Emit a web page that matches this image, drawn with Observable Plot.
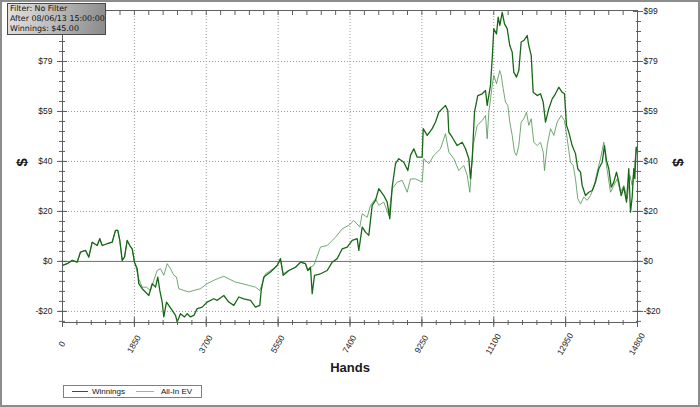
<!DOCTYPE html>
<html><head><meta charset="utf-8">
<script src="https://cdn.jsdelivr.net/npm/d3@7"></script>
<script src="https://cdn.jsdelivr.net/npm/@observablehq/plot@0.6"></script>
<style>
body{margin:0;background:#fff;}
#wrap{position:relative;width:700px;height:407px;overflow:hidden;background:#fff;}
#border{position:absolute;left:0;top:0;width:700px;height:407px;box-sizing:border-box;border:2px solid #8c8c8c;pointer-events:none;}
#filter{position:absolute;left:7px;top:3px;width:99px;height:32px;box-sizing:border-box;border:1px solid #4a4a4a;background:linear-gradient(100deg,#e2e2e2 0%,#bdbdbd 45%,#8a8a8a 100%);font:7.9px "DejaVu Sans",sans-serif;line-height:10px;padding:0 0 0 2px;color:#111;white-space:nowrap;overflow:hidden;}
#filter div{height:10px;}
#legend{position:absolute;left:63px;top:385px;width:139px;height:13px;box-sizing:border-box;border:1px solid #808080;font:8px "Liberation Sans",Arial,sans-serif;color:#111;}
#legend .ln{position:absolute;top:5px;height:0;border-top:1px solid;}
#legend .tx{position:absolute;top:1px;line-height:10px;}
</style></head>
<body>
<div id="wrap">
  <div id="chart"></div>
  <div id="filter"></div>
  <div id="legend"></div>
  <div id="border"></div>
</div>
<script>
// ---- data ----
const seriesNames = ["Winnings", "All-In EV"];
const winHands = [0,121,250,378,463,592,677,764,893,960,1021,1151,1279,1364,1423,1475,1537,1596,1665,1732,1794,1853,
 1923,1964,2051,2136,2221,2309,2394,2453,2504,2566,2607,2677,2736,2824,2909,2952,3037,3140,3210,3295,3380,3467,3596,3724,
 3894,3982,4152,4280,4409,4538,4666,4839,4968,5078,5114,5181,5354,5526,5611,5681,5825,5997,6126,6255,6314,6383,6427,6486,
 6641,6813,6942,7070,7199,7328,7457,7585,7627,7714,7799,7884,7971,8056,8141,8270,8357,8424,8486,8571,8656,8785,8888,8957,
 9042,9130,9258,9284,9387,9516,9601,9686,9858,9917,9943,10031,10159,10288,10373,10458,10502,10546,10604,10689,10803,10888,
 10931,11016,11060,11101,11171,11214,11256,11318,11377,11446,11513,11575,11616,11685,11745,11806,11873,11961,12002,12064,
 12115,12218,12303,12373,12432,12517,12604,12689,12774,12862,12921,12972,13032,13119,13204,13263,13333,13376,13461,13546,
 13634,13719,13804,13891,13950,14002,14061,14123,14190,14259,14319,14380,14447,14517,14576,14620,14663,14705,14731,14767,14800];
const winValues = [-1.6,-0.9,0.4,-0.3,3.7,4.4,1.7,7.6,6.3,9.0,6.3,7.0,7.6,12.3,12.3,8.3,0.4,1.7,8.3,6.3,5.0,-0.3,
 -2.9,-8.8,-10.8,-12.1,-13.5,-8.8,-10.2,-6.2,-11.5,-16.1,-22.0,-16.1,-17.4,-19.4,-21.4,-24.0,-20.7,-22.0,-20.7,-22.0,-21.4,-18.7,-18.1,-16.1,
 -14.8,-15.4,-13.5,-16.1,-17.4,-14.1,-14.8,-15.4,-18.1,-17.4,-11.5,-6.2,-4.2,-1.6,1.1,-5.5,-3.6,-2.3,-0.3,-0.9,-3.6,-2.3,-12.8,-5.5,
 -4.9,-3.6,-0.3,1.1,5.0,5.7,8.3,9.0,4.4,13.6,11.6,10.3,22.2,24.2,28.8,26.1,23.5,16.9,29.4,38.7,40.7,39.3,36.0,42.0,
 44.6,41.3,41.3,52.6,49.9,52.6,55.2,59.1,61.8,59.8,51.2,49.2,45.9,47.2,44.6,40.7,32.8,40.7,59.1,65.7,66.4,67.7,
 61.8,69.7,80.3,92.2,90.1,96.8,93.5,98.7,94.1,92.2,85.5,82.9,75.0,73.0,75.6,86.9,87.5,89.5,85.5,81.6,
 67.0,65.7,66.4,63.1,55.2,60.5,64.4,66.4,69.0,67.0,66.4,53.9,51.2,45.9,42.7,36.7,35.4,30.1,26.1,27.4,
 28.1,31.4,36.7,39.3,45.9,40.0,36.7,29.4,31.4,35.4,31.4,26.1,29.4,23.5,36.7,19.5,25.5,36.7,32.8,45.3,43.3];
const evHandsOwn = [1879,1964,2051,2162,2265,2350,2437,2522,2607,2695,2780,2865,2934,2993,3122,3251,3380,3552,3724,3894,
 3982,4152,4280,4453,4625,4795,4968,5078,5140,5225,5354,5483,5611,5681,5825,5997,6126,6255,6314,6383,6468,
 6641,6813,7027,7199,7369,7498,7652,7714,7843,7928,8056,8141,8270,8399,8486,8615,8744,8872,8957,9086,9258,9300,
 9428,9557,9729,9858,9943,10072,10200,10329,10417,10484,10571,10674,10803,10888,10931,10973,11060,11101,11171,11256,
 11292,11343,11402,11462,11513,11575,11634,11685,11745,11806,11873,11943,12002,12064,12131,12218,12303,12373,12406,
 12476,12561,12646,12733,12836,12921,12990,13075,13145,13204,13263,13333,13418,13505,13590,13675,13763,13848,13933,
 14002,14105,14190,14278,14362,14447,14535,14602,14663,14723,14767,14800];
const evValuesOwn = [-1.6,-6.9,-10.2,-10.2,-11.5,-7.5,-3.6,-2.9,-5.5,-0.9,-2.9,-5.5,-6.2,-10.8,-11.5,-12.1,-11.5,-10.8,-8.8,-7.5,
 -6.9,-5.9,-6.9,-8.2,-8.8,-9.5,-10.2,-11.5,-8.8,-4.9,-3.6,-2.3,0.4,-4.9,-3.6,-2.3,-0.3,-0.9,-3.6,-2.3,-1.6,
 5.7,6.3,9.6,12.9,14.3,16.2,13.6,18.9,17.5,22.2,24.8,22.2,23.5,18.2,28.8,31.4,32.1,27.4,32.7,32.7,31.4,40.7,
 38.7,42.0,44.6,50.6,43.3,40.7,36.0,38.0,34.1,27.4,45.9,53.9,55.8,57.8,48.6,59.1,69.7,73.7,70.4,75.6,
 73.7,68.4,63.1,61.8,55.2,49.9,43.3,42.0,45.9,55.2,56.5,59.1,53.9,56.5,47.2,45.9,47.2,43.3,36.0,
 45.9,52.6,49.9,55.2,57.8,55.8,48.6,39.3,38.0,32.7,24.8,22.8,25.5,24.2,26.1,29.4,35.4,40.7,47.2,
 38.0,27.4,30.1,32.7,27.4,30.1,24.8,34.1,30.1,38.0,44.6,42.0];
// the two series coincide up to hand 1853
const sharedCount = 22;
const evHands = winHands.slice(0, sharedCount).concat(evHandsOwn);
const evValues = winValues.slice(0, sharedCount).concat(evValuesOwn);

const xTicks = [0,1850,3700,5550,7400,9250,11100,12950,14800];
const yTicks = [-19.8,0,19.8,39.6,59.4,79.2,99];
const yTickLabels = ["-$20","$0","$20","$40","$59","$79","$99"];
const filterLines = ["Filter: No Filter","After 08/06/13 15:00:00","Winnings: $45.00"];
const xTitle = "Hands", yTitle = "$";

// ---- build ----
const winData = winHands.map((h,i)=>({hands:h, value:winValues[i]}));
const evData = evHands.map((h,i)=>({hands:h, value:evValues[i]}));
const xMinor = d3.range(0, 14800 + 1, 370);
const yMinor = d3.range(-23.76, 99.01, 3.96);
const yLabel = new Map(yTicks.map((t,i)=>[t, yTickLabels[i]]));
// the top-left label sits under the filter box in the reference, so the left side omits it
const yLeftLabelled = yTicks.slice(0, -1);
const winColor = "#176817", evColor = "#4f9150", axisColor = "#5f5f5f";
const noText = () => "";

const chart = Plot.plot({
  width: 700, height: 407,
  marginLeft: 62, marginRight: 63, marginTop: 10, marginBottom: 85,
  style: {fontFamily: "'Liberation Sans', Arial, sans-serif", fontSize: "8.5px", color: "#1a1a1a", background: "transparent"},
  x: {domain: [0, 14800]},
  y: {domain: [-24.2, 99.4]},
  marks: [
    Plot.gridX(xTicks.slice(1, -1), {stroke: "#9a9a9a", strokeOpacity: 1, strokeDasharray: "1,2"}),
    Plot.gridY(yTicks.filter(t => t !== 0 && t !== 99), {stroke: "#9a9a9a", strokeOpacity: 1, strokeDasharray: "1,2"}),
    Plot.ruleY([0], {stroke: "#6e6e6e", strokeWidth: 1}),
    Plot.line(evData, {x: "hands", y: "value", stroke: evColor, strokeWidth: 0.8}),
    Plot.line(winData, {x: "hands", y: "value", stroke: winColor, strokeWidth: 1.3}),
    Plot.frame({stroke: axisColor}),
    // bottom ticks (crossing)
    Plot.axisX(xMinor, {anchor: "bottom", tickSize: 5, dy: -2, tickFormat: noText, label: null, stroke: axisColor}),
    Plot.axisX(xTicks, {anchor: "bottom", tickSize: 10, dy: -5, tickFormat: noText, label: null, stroke: axisColor}),
    // top ticks (inward)
    Plot.axisX(xMinor, {anchor: "top", tickSize: 4, dy: 4, tickFormat: noText, label: null, stroke: axisColor}),
    // left ticks
    Plot.axisY(yMinor, {anchor: "left", tickSize: 6, dx: 3, tickFormat: noText, label: null, stroke: axisColor}),
    Plot.axisY(yTicks, {anchor: "left", tickSize: 10, dx: 5, tickFormat: noText, label: null, stroke: axisColor}),
    Plot.axisY(yLeftLabelled, {anchor: "left", tickSize: 0, tickPadding: 10, tickFormat: d => yLabel.get(d), label: null}),
    // right ticks
    Plot.axisY(yMinor, {anchor: "right", tickSize: 5, dx: -2, tickFormat: noText, label: null, stroke: axisColor}),
    Plot.axisY(yTicks, {anchor: "right", tickSize: 10, dx: -5, tickPadding: 1, tickFormat: d => yLabel.get(d), label: null, stroke: axisColor}),
    // rotated x tick labels
    Plot.text(xTicks, {x: d => d, text: d => String(d), frameAnchor: "bottom", dy: 23, dx: 2, rotate: -60, textAnchor: "middle", fontSize: 8.5}),
    // axis titles
    Plot.text([xTitle], {frameAnchor: "bottom", dy: 49, fontWeight: "bold", fontSize: 13}),
    Plot.text([yTitle], {frameAnchor: "left", dx: -40, rotate: -90, fontWeight: "bold", fontSize: 15}),
    Plot.text([yTitle], {frameAnchor: "right", dx: 40, rotate: 90, fontWeight: "bold", fontSize: 15})
  ]
});
document.getElementById("chart").appendChild(chart);

// filter box
document.getElementById("filter").innerHTML = filterLines.map(s => `<div>${s}</div>`).join("");

// legend
const leg = document.getElementById("legend");
const legItems = [
  {name: seriesNames[0], color: winColor, x1: 8, x2: 24, tx: 28},
  {name: seriesNames[1], color: "#8fbf8f", x1: 72, x2: 90, tx: 97}
];
leg.innerHTML = legItems.map(it =>
  `<div class="ln" style="left:${it.x1}px;width:${it.x2-it.x1}px;border-color:${it.color}"></div>` +
  `<div class="tx" style="left:${it.tx}px">${it.name}</div>`).join("");
</script>
</body></html>
